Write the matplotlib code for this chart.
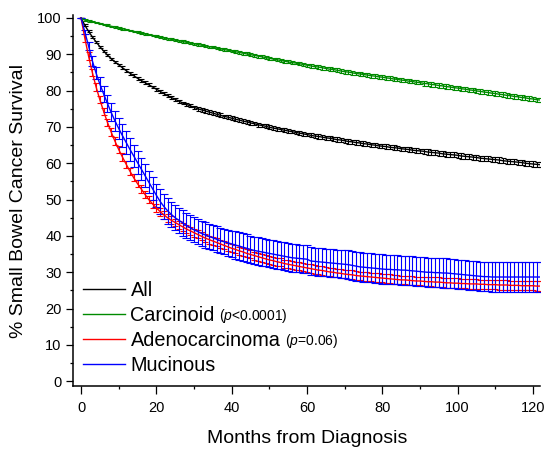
import numpy as np
import matplotlib
matplotlib.use("Agg")
import matplotlib.pyplot as plt
from matplotlib.lines import Line2D
from matplotlib.ticker import MultipleLocator

plt.rcParams['font.family'] = ['Liberation Sans', 'DejaVu Sans']
plt.rcParams['mathtext.fontset'] = 'custom'
plt.rcParams['mathtext.rm'] = 'Liberation Sans'
plt.rcParams['mathtext.it'] = 'Liberation Sans:italic'

months = list(range(123))

# % survival, one value per month (0..122)
surv_all = [
    100.0, 98.0, 96.3, 94.8, 93.4, 92.1, 90.9, 89.8, 88.8, 87.9,
    87.1, 86.3, 85.5, 84.8, 84.1, 83.4, 82.8, 82.2, 81.6, 81.0,
    80.4, 79.8, 79.2, 78.6, 78.1, 77.6, 77.1, 76.6, 76.2, 75.8,
    75.4, 75.0, 74.7, 74.4, 74.1, 73.8, 73.5, 73.2, 72.9, 72.7,
    72.4, 72.1, 71.9, 71.6, 71.4, 71.1, 70.9, 70.6, 70.4, 70.2,
    69.9, 69.7, 69.5, 69.3, 69.1, 68.9, 68.7, 68.5, 68.3, 68.1,
    67.9, 67.7, 67.5, 67.4, 67.2, 67.0, 66.9, 66.7, 66.5, 66.4,
    66.2, 66.0, 65.9, 65.7, 65.6, 65.4, 65.3, 65.1, 65.0, 64.8,
    64.7, 64.6, 64.4, 64.3, 64.2, 64.0, 63.9, 63.8, 63.6, 63.5,
    63.4, 63.3, 63.1, 63.0, 62.9, 62.8, 62.6, 62.5, 62.4, 62.3,
    62.2, 62.0, 61.9, 61.8, 61.7, 61.6, 61.4, 61.3, 61.2, 61.1,
    61.0, 60.9, 60.7, 60.6, 60.5, 60.4, 60.3, 60.2, 60.0, 59.9,
    59.8, 59.7, 59.6]

surv_carcinoid = [
    100.0, 99.4, 99.2, 99.0, 98.7, 98.5, 98.2, 98.0, 97.7, 97.5,
    97.2, 97.0, 96.8, 96.5, 96.3, 96.1, 95.8, 95.6, 95.4, 95.2,
    95.0, 94.7, 94.5, 94.3, 94.1, 93.9, 93.7, 93.5, 93.3, 93.1,
    92.9, 92.7, 92.5, 92.3, 92.1, 91.9, 91.7, 91.5, 91.3, 91.1,
    90.9, 90.7, 90.5, 90.3, 90.1, 89.9, 89.7, 89.5, 89.3, 89.1,
    88.9, 88.7, 88.5, 88.3, 88.1, 87.9, 87.7, 87.6, 87.4, 87.2,
    87.0, 86.8, 86.6, 86.5, 86.3, 86.1, 85.9, 85.8, 85.6, 85.4,
    85.2, 85.1, 84.9, 84.7, 84.6, 84.4, 84.3, 84.1, 84.0, 83.8,
    83.7, 83.5, 83.4, 83.2, 83.1, 82.9, 82.8, 82.6, 82.5, 82.3,
    82.2, 82.0, 81.9, 81.7, 81.6, 81.4, 81.3, 81.1, 81.0, 80.8,
    80.7, 80.5, 80.4, 80.2, 80.1, 79.9, 79.8, 79.6, 79.5, 79.3,
    79.2, 79.0, 78.9, 78.7, 78.6, 78.4, 78.3, 78.1, 78.0, 77.8,
    77.7, 77.5, 77.4]

surv_adeno = [
    100.0, 94.5, 89.5, 85.0, 81.0, 77.5, 74.3, 71.3, 68.6, 66.1,
    63.8, 61.7, 59.7, 57.8, 56.0, 54.4, 52.9, 51.4, 50.0, 48.8,
    47.7, 46.7, 45.8, 45.0, 44.3, 43.7, 43.1, 42.5, 41.9, 41.4,
    40.9, 40.4, 39.9, 39.4, 39.0, 38.6, 38.2, 37.8, 37.4, 37.0,
    36.6, 36.3, 35.9, 35.6, 35.2, 34.9, 34.6, 34.3, 34.0, 33.7,
    33.4, 33.2, 32.9, 32.7, 32.4, 32.2, 32.0, 31.8, 31.6, 31.4,
    31.2, 31.0, 30.8, 30.6, 30.5, 30.3, 30.1, 30.0, 29.8, 29.7,
    29.5, 29.4, 29.3, 29.1, 29.0, 28.9, 28.8, 28.7, 28.6, 28.5,
    28.4, 28.3, 28.2, 28.1, 28.0, 27.9, 27.9, 27.8, 27.7, 27.6,
    27.6, 27.5, 27.4, 27.4, 27.3, 27.3, 27.2, 27.1, 27.1, 27.0,
    27.0, 26.9, 26.9, 26.8, 26.8, 26.8, 26.7, 26.7, 26.6, 26.6,
    26.6, 26.5, 26.5, 26.5, 26.4, 26.4, 26.4, 26.3, 26.3, 26.3,
    26.3, 26.2, 26.2]

surv_mucinous = [
    100.0, 96.2, 92.3, 88.2, 84.8, 81.8, 79.1, 76.5, 74.0, 71.7,
    69.6, 67.6, 65.7, 63.8, 62.0, 60.2, 58.4, 56.6, 54.8, 53.0,
    51.2, 49.5, 48.1, 46.9, 45.9, 45.0, 44.3, 43.6, 42.9, 42.3,
    41.7, 41.2, 40.7, 40.3, 39.9, 39.5, 39.1, 38.7, 38.4, 38.1,
    37.8, 37.5, 37.2, 36.9, 36.6, 36.3, 36.0, 35.8, 35.6, 35.4,
    35.2, 35.0, 34.8, 34.6, 34.4, 34.2, 34.0, 33.9, 33.8, 33.7,
    33.6, 33.1, 33.0, 32.9, 32.8, 32.7, 32.6, 32.5, 32.4, 32.3,
    32.2, 32.1, 31.9, 31.7, 31.5, 31.4, 31.3, 31.2, 31.1, 31.0,
    30.9, 30.8, 30.8, 30.7, 30.7, 30.6, 30.6, 30.5, 30.4, 30.3,
    30.2, 30.1, 30.0, 30.0, 29.9, 29.9, 29.8, 29.8, 29.7, 29.6,
    29.5, 29.4, 29.3, 29.2, 29.1, 29.0, 28.9, 28.8, 28.8, 28.7,
    28.7, 28.7, 28.7, 28.7, 28.7, 28.7, 28.7, 28.7, 28.7, 28.7,
    28.7, 28.7, 28.7]

# error bar half-lengths (% points), same month grid
err_all = [0.0] + [0.3] * 10 + [0.4] * 20 + [0.5] * 30 + [0.6] * 30 + [0.7] * 32
err_carcinoid = [0.0] + [0.2] * 20 + [0.3] * 20 + [0.4] * 20 + [0.5] * 30 + [0.6] * 32
err_adeno = [0.0] + [1.0] * 20 + [1.1] * 40 + [1.2] * 30 + [1.3] * 32
err_mucinous = ([0.0, 0.6, 1.0, 1.3, 1.6, 1.9, 2.1, 2.3, 2.5, 2.7, 2.9]
                + [3.1] * 10 + [3.5] * 20 + [3.8] * 30 + [4.0] * 52)

names = ['All', 'Carcinoid', 'Adenocarcinoma', 'Mucinous']
colors = ['black', '#008a00', '#ff0000', '#0000ff']
series = [surv_all, surv_carcinoid, surv_adeno, surv_mucinous]
errors = [err_all, err_carcinoid, err_adeno, err_mucinous]
caps = [1.8, 1.8, 2.2, 2.6]

fig = plt.figure(figsize=(5.46, 4.5), dpi=100)
ax = fig.add_axes([0.1346, 0.1422, 0.8553, 0.8244])

for vals, err, c, cs in zip(series, errors, colors, caps):
    ax.errorbar(months, vals, yerr=err, color=c, lw=1.0, elinewidth=0.8,
                capsize=cs, capthick=0.8)

ax.set_xlim(-2, 122)
ax.set_ylim(-1.3, 100.8)
ax.xaxis.set_major_locator(MultipleLocator(20))
ax.xaxis.set_minor_locator(MultipleLocator(10))
ax.yaxis.set_major_locator(MultipleLocator(10))
ax.yaxis.set_minor_locator(MultipleLocator(5))
ax.spines['top'].set_visible(False)
ax.spines['right'].set_visible(False)
for s in ['left', 'bottom']:
    ax.spines[s].set_linewidth(1.1)
ax.tick_params(which='major', direction='out', length=5, width=0.9, labelsize=10.5)
ax.tick_params(which='minor', direction='out', length=2.5, width=0.9)
ax.tick_params(axis='x', which='major', length=5.5, pad=5)

ax.set_xlabel('Months from Diagnosis', fontsize=14, labelpad=11)
ax.set_ylabel('% Small Bowel Cancer Survival', fontsize=14, labelpad=7)

handles = [Line2D([], [], color=c, lw=1.0) for c in colors]
leg = ax.legend(handles, names, loc='lower left', bbox_to_anchor=(0.02, 0.03),
                frameon=False, fontsize=14.3, handlelength=2.1, handletextpad=0.3,
                labelspacing=0.3, borderpad=0, borderaxespad=0)
texts = leg.get_texts()
ax.annotate('($\\it{p}$<0.0001)', xy=(1, 0), xycoords=texts[1], xytext=(3, 0),
            textcoords='offset points', fontsize=10, va='bottom', zorder=10)
ax.annotate('($\\it{p}$=0.06)', xy=(1, 0), xycoords=texts[2], xytext=(3, 0),
            textcoords='offset points', fontsize=10, va='bottom', zorder=10)

fig.savefig('out.png', dpi=100)
